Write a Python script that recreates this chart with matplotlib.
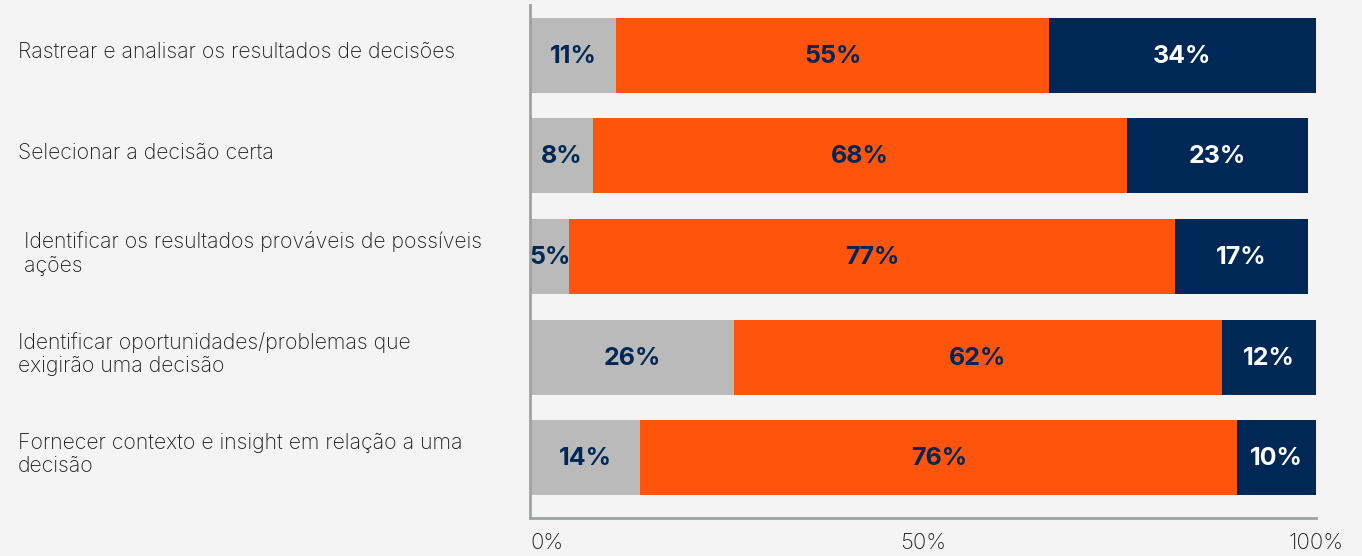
import matplotlib
matplotlib.use("Agg")
import matplotlib.pyplot as plt
import matplotlib.transforms as mtransforms
import numpy as np

categories = [
    "Rastrear e analisar os resultados de decisões",
    "Selecionar a decisão certa",
    " Identificar os resultados prováveis de possíveis\n ações",
    "Identificar oportunidades/problemas que\nexigirão uma decisão",
    "Fornecer contexto e insight em relação a uma\ndecisão",
]
low = [11, 8, 5, 26, 14]
mid = [55, 68, 77, 62, 76]
high = [34, 23, 17, 12, 10]
tick_vals = [0, 50, 100]
tick_labels = ["0%", "50%", "100%"]

bg = "#f4f4f4"
colors = ["#b9bab9", "#fe540b", "#002856"]
text_colors = ["#002856", "#002856", "white"]
font = "Inter"

fig = plt.figure(figsize=(13.62, 5.56), dpi=100, facecolor=bg)
ax = fig.add_axes([530 / 1362, 38 / 556, 786 / 1362, 513 / 556])
ax.set_facecolor(bg)

y = np.arange(len(categories))
left = np.zeros(len(categories))
for vals, c, tc in zip([low, mid, high], colors, text_colors):
    vals = np.array(vals, dtype=float)
    ax.barh(y, vals, left=left, height=0.745, color=c, edgecolor="none")
    for yi, l, v in zip(y, left, vals):
        ax.text(l + v / 2, yi + 0.01, f"{int(v)}%", ha="center", va="center",
                color=tc, fontsize=18, fontweight="bold", family=font)
    left = left + vals

ax.set_xlim(0, 100)
ax.set_ylim(4.6, -0.5)
ax.set_yticks([])
ax.set_xticks(tick_vals)
ax.set_xticklabels(tick_labels, fontsize=16, fontweight="light", family=font,
                   color="#1e1e1e")
ax.get_xticklabels()[0].set_ha("left")
ax.tick_params(axis="x", length=0, pad=11)
for s in ["top", "right"]:
    ax.spines[s].set_visible(False)
for s in ["left", "bottom"]:
    ax.spines[s].set_color("#9ea3a0")
    ax.spines[s].set_linewidth(2)

trans = mtransforms.blended_transform_factory(fig.transFigure, ax.transData)
for yi, cat in zip(y, categories):
    ax.text(18 / 1362, yi - 0.03, cat, transform=trans, ha="left", va="center",
            fontsize=15.3, fontweight="light", family=font, color="#1e1e1e",
            linespacing=1.22)

fig.savefig("out.png", dpi=100, facecolor=bg)
